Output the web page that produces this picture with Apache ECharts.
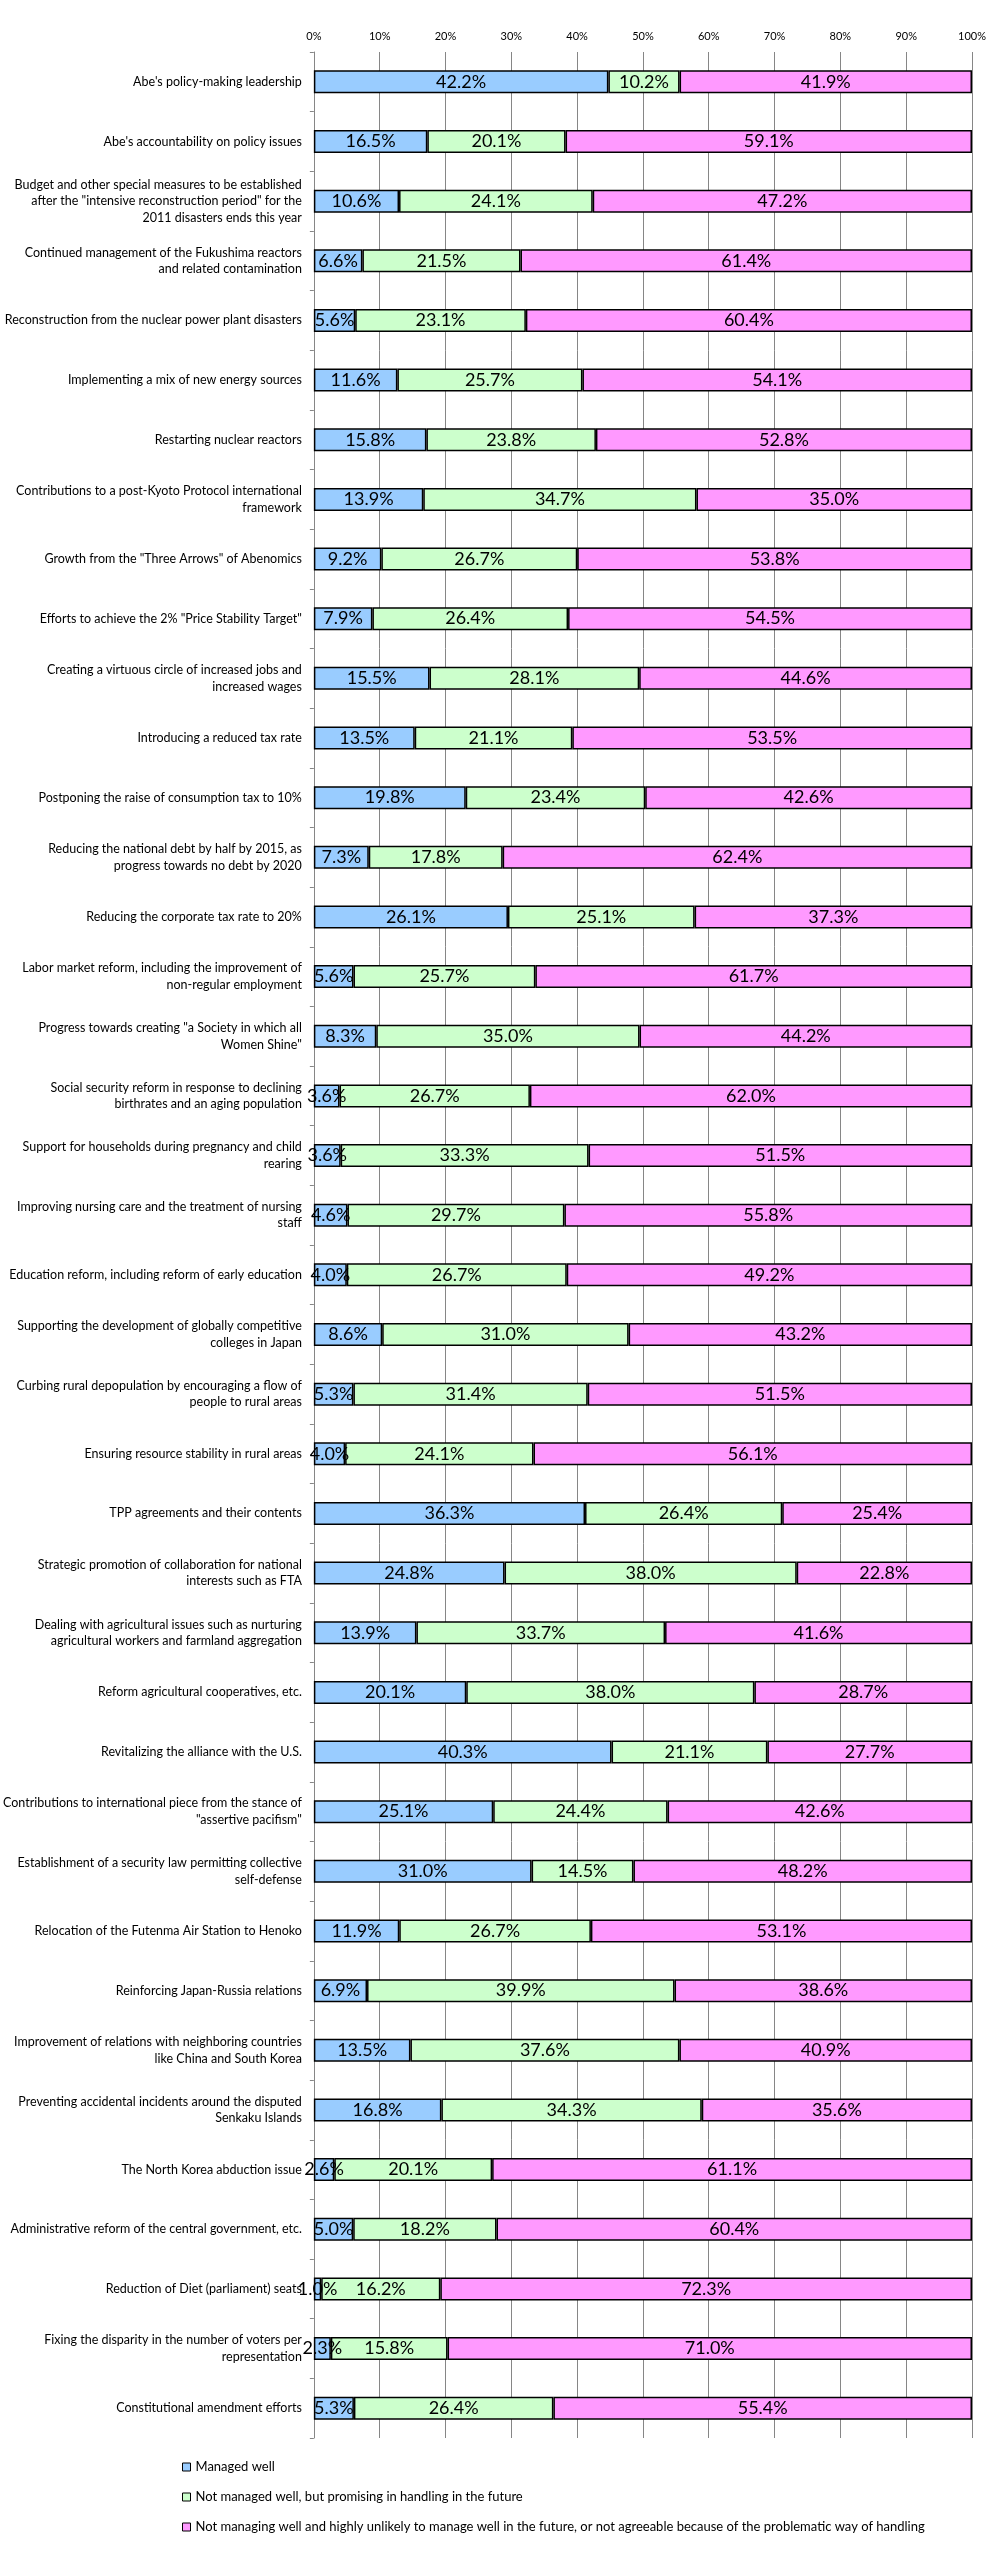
<!DOCTYPE html>
<html>
<head>
<meta charset="utf-8">
<script src="https://cdn.jsdelivr.net/npm/echarts@6/dist/echarts.min.js"></script>
<style>
html,body{margin:0;padding:0;background:#fff;}
#chart{width:1008px;height:2549px;}
</style>
</head>
<body>
<div id="chart"></div>
<script>
const categories = [
  "Abe's policy-making leadership",
  "Abe's accountability on policy issues",
  "Budget and other special measures to be established\nafter the \"intensive reconstruction period\" for the\n2011 disasters ends this year",
  "Continued management of the Fukushima reactors\nand related contamination",
  "Reconstruction from the nuclear power plant disasters",
  "Implementing a mix of new energy sources",
  "Restarting nuclear reactors",
  "Contributions to a post-Kyoto Protocol international\nframework",
  "Growth from the \"Three Arrows\" of Abenomics",
  "Efforts to achieve the 2% \"Price Stability Target\"",
  "Creating a virtuous circle of increased jobs and\nincreased wages",
  "Introducing a reduced tax rate",
  "Postponing the raise of consumption tax to 10%",
  "Reducing the national debt by half by 2015, as\nprogress towards no debt by 2020",
  "Reducing the corporate tax rate to 20%",
  "Labor market reform, including the improvement of\nnon-regular employment",
  "Progress towards creating \"a Society in which all\nWomen Shine\"",
  "Social security reform in response to declining\nbirthrates and an aging population",
  "Support for households during pregnancy and child\nrearing",
  "Improving nursing care and the treatment of nursing\nstaff",
  "Education reform, including reform of early education",
  "Supporting the development of globally competitive\ncolleges in Japan",
  "Curbing rural depopulation by encouraging a flow of\npeople to rural areas",
  "Ensuring resource stability in rural areas",
  "TPP agreements and their contents",
  "Strategic promotion of collaboration for national\ninterests such as FTA",
  "Dealing with agricultural issues such as nurturing\nagricultural workers and farmland aggregation",
  "Reform agricultural cooperatives, etc.",
  "Revitalizing the alliance with the U.S.",
  "Contributions to international piece from the stance of\n\"assertive pacifism\"",
  "Establishment of a security law permitting collective\nself-defense",
  "Relocation of the Futenma Air Station to Henoko",
  "Reinforcing Japan-Russia relations",
  "Improvement of relations with neighboring countries\nlike China and South Korea",
  "Preventing accidental incidents around the disputed\nSenkaku Islands",
  "The North Korea abduction issue",
  "Administrative reform of the central government, etc.",
  "Reduction of Diet (parliament) seats",
  "Fixing the disparity in the number of voters per\nrepresentation",
  "Constitutional amendment efforts"
];
const seriesNames = [
  "Managed well",
  "Not managed well, but promising in handling in the future",
  "Not managing well and highly unlikely to manage well in the future, or not agreeable because of the problematic way of handling"
];
const managedWell = [42.2,16.5,10.6,6.6,5.6,11.6,15.8,13.9,9.2,7.9,15.5,13.5,19.8,7.3,26.1,5.6,8.3,3.6,3.6,4.6,4.0,8.6,5.3,4.0,36.3,24.8,13.9,20.1,40.3,25.1,31.0,11.9,6.9,13.5,16.8,2.6,5.0,1.0,2.3,5.3];
const promising   = [10.2,20.1,24.1,21.5,23.1,25.7,23.8,34.7,26.7,26.4,28.1,21.1,23.4,17.8,25.1,25.7,35.0,26.7,33.3,29.7,26.7,31.0,31.4,24.1,26.4,38.0,33.7,38.0,21.1,24.4,14.5,26.7,39.9,37.6,34.3,20.1,18.2,16.2,15.8,26.4];
const notManaging = [41.9,59.1,47.2,61.4,60.4,54.1,52.8,35.0,53.8,54.5,44.6,53.5,42.6,62.4,37.3,61.7,44.2,62.0,51.5,55.8,49.2,43.2,51.5,56.1,25.4,22.8,41.6,28.7,27.7,42.6,48.2,53.1,38.6,40.9,35.6,61.1,60.4,72.3,71.0,55.4];
const colors = ['#99CCFF','#CCFFCC','#FF99FF'];

const raw = [managedWell, promising, notManaging];
const totals = categories.map((c,i)=>managedWell[i]+promising[i]+notManaging[i]);

const FONT = 'Lato, "Noto Sans", sans-serif';
const chart = echarts.init(document.getElementById('chart'), null, {renderer:'canvas'});
chart.setOption({
  animation:false,
  backgroundColor:'#fff',
  grid:{left:313, right:36, top:52, bottom:111, containLabel:false},
  xAxis:{
    type:'value', position:'top', min:0, max:100, interval:10,
    axisLine:{show:false}, axisTick:{show:false},
    axisLabel:{formatter:'{value}%', fontFamily:FONT, fontSize:11, color:'#000', margin:10},
    splitLine:{show:true, lineStyle:{color:'#868686', width:1}}
  },
  yAxis:{
    type:'category', inverse:true, data:categories,
    axisLine:{show:true, lineStyle:{color:'#868686', width:1}},
    axisTick:{show:true, length:4, lineStyle:{color:'#868686'}},
    axisLabel:{fontFamily:FONT, fontSize:12.5, color:'#000', lineHeight:16.5, margin:12, align:'right'}
  },
  legend:{
    orient:'vertical', left:177, top:2454,
    itemWidth:8, itemHeight:8, itemGap:14,
    icon:'rect',
    itemStyle:{borderColor:'#000', borderWidth:1},
    textStyle:{fontFamily:FONT, fontSize:13, color:'#000', lineHeight:16},
    data:seriesNames
  },
  series: raw.map((arr,k)=>({
    name:seriesNames[k], type:'bar', stack:'total', barWidth:23,
    itemStyle:{color:colors[k], borderColor:'#000', borderWidth:1.5},
    label:{show:true, position:'inside', fontFamily:FONT, fontSize:18, color:'#000',
      formatter:(p)=>arr[p.dataIndex].toFixed(1)+'%'},
    labelLayout:{hideOverlap:false},
    emphasis:{disabled:true},
    data: arr.map((v,i)=>v/totals[i]*100)
  }))
});
</script>
</body>
</html>
